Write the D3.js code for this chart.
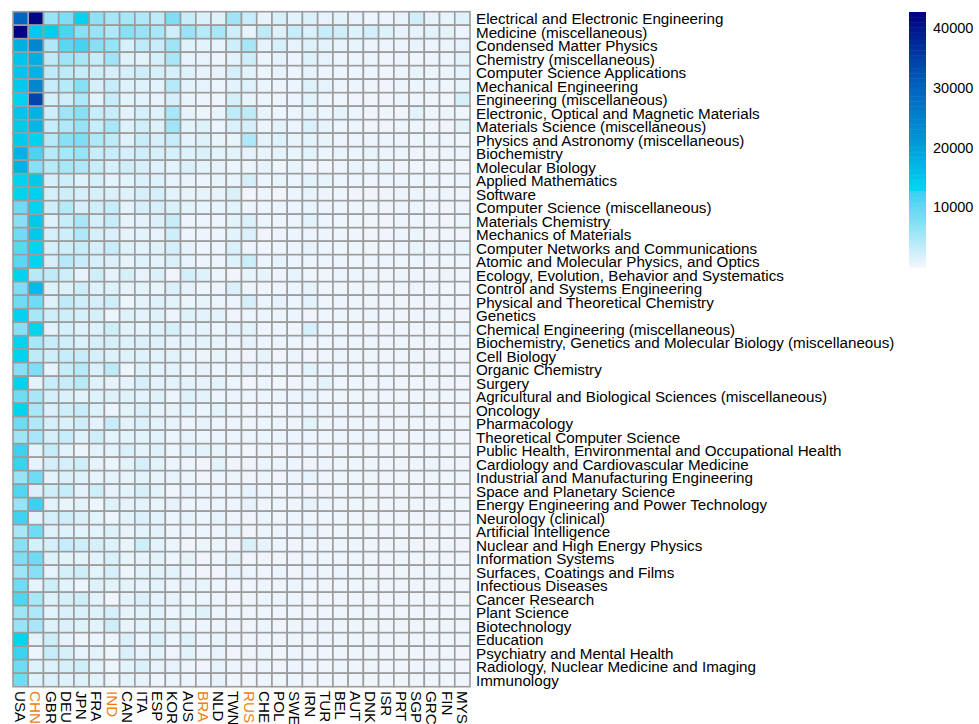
<!DOCTYPE html>
<html>
<head>
<meta charset="utf-8">
<script src="https://cdn.jsdelivr.net/npm/d3@7"></script>
<style>
  html, body { margin: 0; padding: 0; background: #ffffff; }
  svg { display: block; }
  text { font-family: "Liberation Sans", Arial, Helvetica, sans-serif; }
</style>
</head>
<body>
<svg id="chart" width="979" height="724"></svg>
<script>
// Country columns (orange labels mark the highlighted countries)
const countries = ["USA","CHN","GBR","DEU","JPN","FRA","IND","CAN","ITA","ESP","KOR","AUS","BRA","NLD","TWN","RUS","CHE","POL","SWE","IRN","TUR","BEL","AUT","DNK","ISR","PRT","SGP","GRC","FIN","MYS"];
const highlighted = ["CHN","IND","BRA","RUS"];

// Subject rows
const subjects = [
  "Electrical and Electronic Engineering",
  "Medicine (miscellaneous)",
  "Condensed Matter Physics",
  "Chemistry (miscellaneous)",
  "Computer Science Applications",
  "Mechanical Engineering",
  "Engineering (miscellaneous)",
  "Electronic, Optical and Magnetic Materials",
  "Materials Science (miscellaneous)",
  "Physics and Astronomy (miscellaneous)",
  "Biochemistry",
  "Molecular Biology",
  "Applied Mathematics",
  "Software",
  "Computer Science (miscellaneous)",
  "Materials Chemistry",
  "Mechanics of Materials",
  "Computer Networks and Communications",
  "Atomic and Molecular Physics, and Optics",
  "Ecology, Evolution, Behavior and Systematics",
  "Control and Systems Engineering",
  "Physical and Theoretical Chemistry",
  "Genetics",
  "Chemical Engineering (miscellaneous)",
  "Biochemistry, Genetics and Molecular Biology (miscellaneous)",
  "Cell Biology",
  "Organic Chemistry",
  "Surgery",
  "Agricultural and Biological Sciences (miscellaneous)",
  "Oncology",
  "Pharmacology",
  "Theoretical Computer Science",
  "Public Health, Environmental and Occupational Health",
  "Cardiology and Cardiovascular Medicine",
  "Industrial and Manufacturing Engineering",
  "Space and Planetary Science",
  "Energy Engineering and Power Technology",
  "Neurology (clinical)",
  "Artificial Intelligence",
  "Nuclear and High Energy Physics",
  "Information Systems",
  "Surfaces, Coatings and Films",
  "Infectious Diseases",
  "Cancer Research",
  "Plant Science",
  "Biotechnology",
  "Education",
  "Psychiatry and Mental Health",
  "Radiology, Nuclear Medicine and Imaging",
  "Immunology"
];

// Publication counts: one row per subject, columns in the order of `countries`
const counts = [
  [30000,41800,6250,7900,13500,6800,5200,5200,4600,3600,7900,3000,1700,1400,5700,3000,740,1950,1140,1700,1000,1140,870,470,470,870,2500,870,740,1400],
  [42700,14700,14000,11500,7300,6250,4640,7300,6250,5170,2500,6250,4100,5170,2500,740,3560,1400,3000,1700,3000,2500,1400,2200,1400,870,870,1140,1140,470],
  [18000,24000,4640,10300,11800,7300,6250,1950,3560,3000,5700,1400,1140,870,2500,5170,870,1950,870,1400,1140,870,740,470,470,470,740,470,470,870],
  [15300,18000,3560,5700,5170,3000,5700,1400,1140,1950,5170,870,870,470,1140,2500,470,870,470,1400,870,470,470,470,300,470,250,470,470,1140],
  [15300,17500,3560,3560,3000,2500,1950,1950,2500,1950,1950,1400,870,870,1950,1140,470,870,470,870,470,470,470,470,300,470,740,470,470,870],
  [14700,24000,3000,4100,7300,1950,3000,1400,1400,1140,4100,1140,870,470,1140,1400,470,470,470,1400,870,470,470,250,200,470,470,470,250,740],
  [13500,34000,1950,2500,4640,1140,3000,1140,1140,870,1950,740,470,300,1950,740,470,470,470,1140,470,250,200,200,200,470,300,250,200,1950],
  [15300,17500,2500,5700,7300,3000,3000,1140,1950,1400,5170,870,470,740,3560,3560,740,470,470,870,470,1140,470,200,250,200,1140,250,470,250],
  [14700,17000,3000,4640,6250,3000,5170,1400,2500,1400,5700,1140,1400,470,1700,1950,470,1140,470,1700,870,470,470,200,200,470,470,300,200,1140],
  [14700,13300,4100,7300,7860,4640,3560,1400,3000,1950,3000,1140,1400,740,740,4640,1140,1400,740,1140,740,470,470,470,470,470,470,470,470,250],
  [17500,11500,4100,5170,6250,3000,3000,1950,2500,1950,1950,1400,1700,1140,1140,870,740,870,740,1140,470,740,470,740,470,470,250,300,470,470],
  [17500,7300,4100,5170,4640,3000,1950,2500,1950,1400,1140,1700,1140,870,470,470,870,300,740,250,250,470,740,470,740,300,250,200,250,200],
  [13500,14700,1950,2500,1400,1950,1140,1140,1700,1400,870,740,470,740,740,1950,470,740,470,1140,740,470,470,250,470,470,470,470,250,470],
  [13500,13800,1950,2500,1950,1950,1700,1400,1950,1950,1140,870,870,870,1700,150,470,150,470,740,470,250,200,200,250,470,470,470,470,250],
  [8900,13200,2500,4100,1950,2500,3000,1140,1950,1950,1700,1140,740,740,1140,470,470,470,470,740,470,470,250,250,250,470,470,300,250,470],
  [7300,14700,1400,3000,5170,1950,3000,870,1140,1700,3000,470,470,470,1140,1700,470,470,470,1140,470,250,250,200,200,470,470,250,200,470],
  [8900,14700,1950,2500,4640,1950,1700,870,1140,870,2500,470,470,470,1140,1700,200,470,470,470,470,250,250,200,200,470,470,200,200,200],
  [10300,13200,1950,2500,3000,1950,3000,1400,1140,1400,1950,870,470,470,1700,470,250,470,470,870,470,250,250,250,250,470,740,470,470,740],
  [10300,13200,1950,4100,3000,1950,1700,870,1400,1140,1700,870,470,470,1400,2800,470,870,470,470,470,470,250,250,470,250,470,250,250,250],
  [13500,4100,3560,2500,870,2500,870,1950,870,1700,200,2200,1400,470,200,740,740,470,870,250,250,470,470,470,250,470,250,250,470,250],
  [7860,16300,1400,1400,2500,1400,1400,870,1140,740,1700,870,470,470,1700,470,250,470,470,870,250,250,250,250,250,250,470,250,250,250],
  [8900,8900,1400,3560,2500,1950,2500,470,1140,1400,1140,470,740,470,470,1950,470,870,470,1140,250,470,250,250,250,250,250,250,250,250],
  [13500,5170,2500,2500,1950,1950,470,1400,1140,1400,470,1400,1140,1140,200,470,470,470,470,200,250,470,250,470,250,250,250,250,250,200],
  [7300,13200,1140,1950,1400,1400,2500,1140,870,1400,1950,870,870,470,1140,1140,200,470,200,1950,470,250,250,250,200,250,250,250,250,470],
  [13500,5170,3000,2500,1700,1950,1950,1400,1700,1400,870,1140,1140,870,470,870,470,470,470,470,250,470,250,470,250,250,250,250,250,250],
  [13500,3560,2500,3000,3000,1950,1400,1400,1400,1140,1140,870,470,740,470,200,740,200,470,200,250,470,250,250,250,250,250,200,250,200],
  [7300,7860,870,3000,4100,1700,3560,470,1400,1140,1140,470,870,470,470,870,470,470,200,1140,470,470,250,250,250,250,250,250,250,250],
  [13500,1140,3000,3000,4100,1400,870,1140,1950,1140,1140,1140,870,1140,470,150,470,150,200,470,1140,250,250,250,470,250,250,250,250,200],
  [8900,5170,1950,1700,1140,1400,1400,1400,1140,1400,470,1400,1140,470,470,470,470,470,470,870,250,250,250,250,250,250,250,250,250,250],
  [13500,5170,1700,2500,3000,1400,470,1140,1700,870,870,1140,470,1140,470,200,470,200,470,470,470,470,250,250,250,250,470,250,250,200],
  [8900,4640,1950,1700,2500,1140,3000,1140,1700,1140,870,470,870,470,470,200,470,470,200,1140,250,470,250,250,250,250,250,250,250,250],
  [5700,5170,1950,3000,1400,2500,1140,1140,1140,1140,470,870,470,470,470,470,470,470,470,470,250,470,470,470,250,250,250,250,250,200],
  [12400,1140,3000,1140,470,1140,1140,1700,1140,1400,470,1140,1140,740,470,150,470,200,470,470,250,470,250,250,250,250,250,250,250,250],
  [12400,870,1950,1950,2500,870,470,1140,1950,1140,470,470,200,1140,200,200,470,470,470,200,470,250,250,250,250,250,250,470,250,200],
  [6250,8900,1140,1700,1400,740,1140,740,1140,740,870,470,200,470,470,200,470,200,470,870,250,250,250,250,200,250,250,250,250,250],
  [11000,1700,2500,3000,1140,2500,870,1140,1950,1140,200,870,470,470,470,870,470,200,470,200,200,250,250,250,200,200,200,200,250,200],
  [6250,12400,1140,740,1140,470,1400,870,1140,740,870,470,470,470,470,870,200,470,200,870,470,250,250,250,200,250,250,250,250,250],
  [12000,1140,1950,2500,1700,1140,470,1140,1700,1140,470,870,470,870,200,200,470,200,470,250,250,250,250,250,250,250,200,200,250,200],
  [5170,8900,1400,1400,1140,1140,1400,740,1140,1140,470,470,470,470,870,200,470,470,470,870,250,250,250,250,250,250,250,250,250,250],
  [7300,1950,1950,3000,2500,1950,1400,740,2500,1140,470,200,470,470,200,1700,870,470,200,250,250,250,250,250,250,250,200,250,250,200],
  [7860,8900,1400,1140,1140,1140,1700,740,870,1140,470,870,200,470,870,200,200,200,200,470,250,250,250,250,250,250,250,250,250,250],
  [5700,7300,870,1950,2500,1140,1950,470,1140,1140,1140,470,200,200,870,470,200,470,200,470,250,470,250,250,200,250,250,250,250,250],
  [8900,870,2500,1140,470,1400,1140,1140,870,1140,470,870,740,470,200,200,470,200,470,250,250,250,250,250,250,250,250,200,200,200],
  [11000,5170,1400,1950,2500,1140,250,1140,1700,870,870,470,470,470,200,200,470,470,470,250,250,250,250,250,250,250,250,250,250,250],
  [5700,4640,1140,1700,1700,1400,1950,870,1140,1140,470,740,1400,470,250,250,250,250,250,250,250,250,250,250,250,250,200,200,250,250],
  [6250,5170,1400,1700,1400,1140,2500,740,1140,1140,1140,470,470,470,470,250,470,250,250,470,470,250,250,250,250,250,250,250,250,250],
  [13200,1140,2500,870,250,470,470,1700,470,1700,470,1400,470,740,470,250,250,250,250,250,470,250,250,250,250,250,250,250,250,250],
  [12400,470,3000,1950,870,1140,250,1700,870,1140,200,1140,470,870,200,200,470,200,470,250,250,250,250,250,250,250,200,200,250,200],
  [8900,1400,1400,1950,2500,1140,470,1140,1700,870,870,470,200,870,470,200,470,200,470,250,250,470,250,250,250,250,250,250,250,200],
  [8900,1400,1700,1400,1400,1140,470,1140,870,470,470,470,470,870,200,200,470,200,470,250,250,250,250,250,250,250,250,250,250,200]
];

// Legend tick values
const legendTicks = [10000, 20000, 30000, 40000];

const cells = [];
subjects.forEach((s, i) => {
  countries.forEach((c, j) => {
    cells.push({ subject: s, country: c, value: counts[i][j] });
  });
});

const maxValue = d3.max(cells, d => d.value);

// Colour ramp: pale blue-white up to bright cyan, then deep blue up to navy
const color = d3.scaleLinear()
  .domain([0, 12700, 12701, 21000, 30000, maxValue])
  .range(["#f3f6fd", "#38d0f0", "#00d8f2", "#0098d8", "#0064c0", "#000080"])
  .clamp(true);

const svg = d3.select("#chart");

const x = d3.scaleBand().domain(countries).range([13, 470]).padding(0);
const y = d3.scaleBand().domain(subjects).range([11.7, 686.7]).padding(0);

// Heatmap cells
svg.append("g")
  .selectAll("rect")
  .data(cells)
  .join("rect")
  .attr("x", d => x(d.country))
  .attr("y", d => y(d.subject))
  .attr("width", x.bandwidth())
  .attr("height", y.bandwidth())
  .attr("fill", d => color(d.value))
  .attr("stroke", "#9c9c9c")
  .attr("stroke-width", 1.6);

// Row labels on the right
svg.append("g")
  .selectAll("text")
  .data(subjects)
  .join("text")
  .attr("x", 476)
  .attr("y", d => y(d) + y.bandwidth() / 2 + 0.5)
  .attr("dominant-baseline", "central")
  .attr("font-size", 15.2)
  .attr("fill", "#000")
  .text(d => d);

// Column labels, rotated to read downward
svg.append("g")
  .selectAll("text")
  .data(countries)
  .join("text")
  .attr("transform", d => `translate(${x(d) + x.bandwidth() / 2},691) rotate(90)`)
  .attr("dominant-baseline", "central")
  .attr("font-size", 15.2)
  .attr("fill", d => highlighted.includes(d) ? "#f07d14" : "#000")
  .text(d => d);

// Colour legend
const legendScale = d3.scaleLinear().domain([0, maxValue]).range([267, 12]);
const legend = svg.append("g");
const steps = d3.range(0, 100);
const stepSize = maxValue / steps.length;
legend.selectAll("rect")
  .data(steps)
  .join("rect")
  .attr("x", 909)
  .attr("width", 17)
  .attr("y", i => legendScale((i + 1) * stepSize))
  .attr("height", i => legendScale(i * stepSize) - legendScale((i + 1) * stepSize) + 0.5)
  .attr("fill", i => color((i + 0.5) * stepSize));

const legendAxis = d3.axisRight(legendScale)
  .tickValues(legendTicks)
  .tickSize(0)
  .tickPadding(0)
  .tickFormat(d3.format("d"));

legend.append("g")
  .attr("transform", "translate(933,0)")
  .call(legendAxis)
  .call(g => g.select(".domain").remove())
  .call(g => g.selectAll("text")
    .attr("font-size", 14.5)
    .attr("font-family", "\"Liberation Sans\", Arial, Helvetica, sans-serif")
    .attr("fill", "#000"));
</script>
</body>
</html>
